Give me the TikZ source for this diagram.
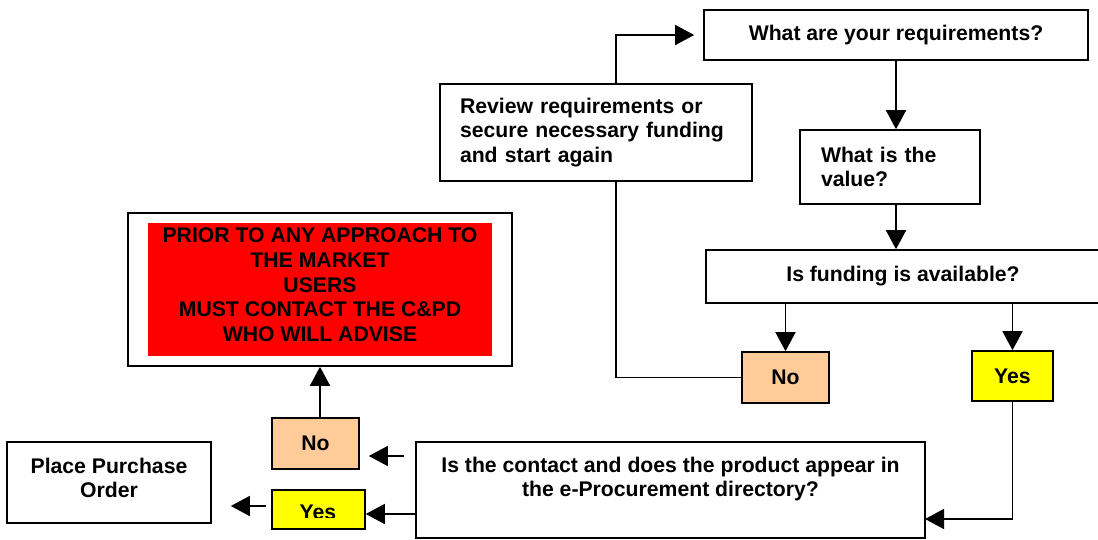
\documentclass[tikz,border=0pt]{standalone}
\usepackage{fontspec}
\setmainfont{Liberation Sans}
\usetikzlibrary{arrows.meta,positioning}
\definecolor{peach}{HTML}{FFCC99}
\definecolor{brightred}{HTML}{FF0000}
\definecolor{brightyellow}{HTML}{FFFF00}

\begin{document}
\begin{tikzpicture}[x=1pt,y=-1pt,>={Triangle[length=19pt,width=20pt]},
  font=\fontsize{21.2}{24.8}\selectfont\bfseries,
  box/.style={draw,line width=1.6pt,inner sep=0pt,align=center},
  txt/.style={inner sep=0pt,align=center},
  link/.style={line width=1.6pt},
  arr/.style={line width=1.6pt,->}]
\path[use as bounding box,clip] (0,0) rectangle (1098,539);
\node[box,minimum width=384pt,minimum height=50pt] (req) at (896,35) {What are your requirements?};
\node[box,minimum width=312pt,minimum height=97pt,text width=272pt,align=left] (review) at (596,132.5) {Review requirements or\\secure necessary funding\\and start again};
\node[box,minimum width=180pt,minimum height=74pt,text width=138pt,align=left] (value) at (890,167) {What is the\\value?};
\node[box,minimum width=394pt,minimum height=53pt] (fund) at (903,276.5) {Is funding is available?};
\node[box,fill=peach,minimum width=87pt,minimum height=51pt] (noA) at (785.5,377.5) {No};
\node[box,fill=brightyellow,minimum width=81pt,minimum height=50pt] (yesA) at (1012.5,376) {Yes};
\node[box,minimum width=509pt,minimum height=96pt] (prod) at (670.5,490) {};
\node[txt] (prodtxt) at (670.5,479) {Is the contact and does the product appear in\\the e-Procurement directory?};
\node[box,minimum width=384pt,minimum height=153pt] (alert) at (320,289.5) {};
\node[fill=brightred,inner sep=0pt,minimum width=344pt,minimum height=133pt] (alertfill) at (alert) {};
\node[txt] (alerttxt) at (320,284.7) {PRIOR TO ANY APPROACH TO\\THE MARKET\\USERS\\MUST CONTACT THE C\&PD\\WHO WILL ADVISE};
\node[box,minimum width=204pt,minimum height=81pt] (order) at (109,482.5) {};
\node[txt] (ordertxt) at (109,478) {Place Purchase\\Order};
\node[box,fill=peach,minimum width=87pt,minimum height=51pt] (noB) at (315.5,443.5) {No};
\node[box,fill=brightyellow,minimum width=93pt,minimum height=39pt] (yesB) at (318.5,509.5) {};
\begin{scope}
\clip (272,490) rectangle (365,517.5);
\node[txt] (yesBtxt) at (318,512.8) {Yes};
\end{scope}
\coordinate (loop) at (616,0);
\coordinate (yesin) at (925,519);
\coordinate (noout) at (404,456);
\coordinate (yesout) at (416,514);
\coordinate (orderout) at (266,506);
\draw[arr,shorten >=9pt] (review.north -| loop) |- (req.west);
\draw[arr] (req.south) -- (req.south |- value.north);
\draw[arr] (value.south -| req.south) -- (req.south |- fund.north);
\draw[arr] (noA.north |- fund.south) -- (noA.north);
\draw[arr] (yesA.north |- fund.south) -- (yesA.north);
\draw[arr] (yesA.south) |- (yesin);
\draw[link] (noA.west) -| (review.south -| loop);
\draw[arr,shorten >=9pt] (noout) -- (noout -| noB.east);
\draw[arr] (yesout) -- (yesout -| yesB.east);
\draw[arr,shorten >=19pt] (orderout) -- (orderout -| order.east);
\draw[arr] (alert.south |- noB.north) -- (alert.south);
\end{tikzpicture}
\end{document}
